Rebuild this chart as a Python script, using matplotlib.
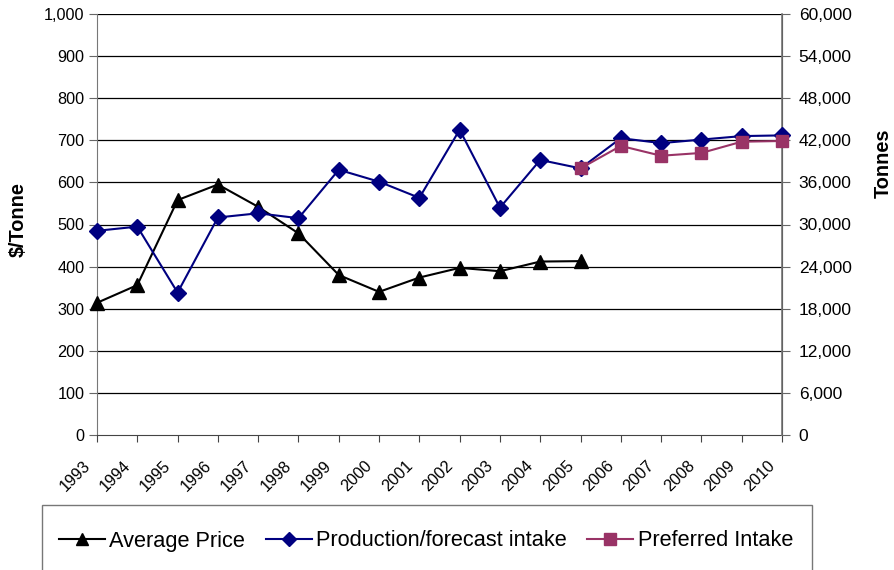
import matplotlib
matplotlib.use('Agg')
import matplotlib.pyplot as plt
from matplotlib.patches import Rectangle
from matplotlib.ticker import FuncFormatter

plt.rcParams['font.family'] = ['Liberation Sans', 'DejaVu Sans']

years = [str(y) for y in range(1993, 2011)]

# $/tonne, 1993-2005
avg_price = [314, 356, 558, 595, 542, 479, 380, 340, 374, 397, 389, 412, 413]

# tonnes, 1993-2010
production = [29100, 29700, 20300, 31000, 31600, 30900, 37800, 36100, 33800,
              43500, 32400, 39200, 38000, 42300, 41600, 42100, 42600, 42700]

# tonnes, 2005-2010
preferred = [38000, 41200, 39800, 40200, 41800, 41900]

x_all = list(range(len(years)))
x_price = x_all[:len(avg_price)]
x_pref = x_all[len(years) - len(preferred):]

fig = plt.figure(figsize=(8.95, 5.70), dpi=100)
ax = fig.add_axes([97 / 895, 1 - 435 / 570, 685 / 895, 421 / 570])
ax2 = ax.twinx()

# left axis: price
ax.set_xlim(0, len(years) - 1)
ax.set_ylim(0, 1000)
ax.set_yticks(range(0, 1001, 100))
ax.yaxis.set_major_formatter(FuncFormatter(lambda v, p: f'{int(v):,}'))
for v in range(100, 1001, 100):
    ax.axhline(v, color='black', lw=0.9, zorder=1)
ax.set_xticks(x_all)
ax.set_xticklabels([])
ax.tick_params(axis='x', length=5, width=0.8, color='#444444')
ax.tick_params(axis='y', length=6, width=0.8, pad=3, labelsize=11.7, color='#666666')

# year labels, slanted, sitting left of each tick
for i, yr in zip(x_all, years):
    ax.annotate(yr, xy=(i, 0), xycoords=('data', 'axes fraction'),
                xytext=(-22, -41), textcoords='offset pixels',
                rotation=45, rotation_mode='anchor', ha='center', va='center',
                fontsize=11.7, annotation_clip=False)

for s in ['top']:
    ax.spines[s].set_visible(False)
    ax2.spines[s].set_visible(False)
ax.spines['left'].set_color('#777777')
ax.spines['bottom'].set_color('#444444')
ax2.spines['right'].set_color('#777777')
ax2.spines['right'].set_linewidth(1.2)
ax2.spines['left'].set_visible(False)
ax2.spines['bottom'].set_visible(False)

l1, = ax.plot(x_price, avg_price, color='black', lw=1.5, marker='^', ms=10,
              label='Average Price', zorder=3, clip_on=False)

# right axis: tonnes
ax2.set_ylim(0, 60000)
ax2.set_yticks(range(0, 60001, 6000))
ax2.yaxis.set_major_formatter(FuncFormatter(lambda v, p: f'{int(v):,}'))
ax2.tick_params(axis='y', length=6, width=0.8, pad=6, labelsize=12.5, color='#666666')

l2, = ax2.plot(x_all, production, color='#000080', lw=1.5, marker='D', ms=8,
               label='Production/forecast intake', zorder=3, clip_on=False)
l3, = ax2.plot(x_pref, preferred, color='#993366', lw=1.5, marker='s', ms=9,
               label='Preferred Intake', zorder=4, clip_on=False)

# axis titles
fig.text(18 / 895, 1 - 220 / 570, '$/Tonne', rotation=90, ha='center', va='center',
         fontsize=14.3, fontweight='bold')
fig.text(883 / 895, 1 - 163 / 570, 'Tonnes', rotation=90, ha='center', va='center',
         fontsize=14.3, fontweight='bold')

# legend box below the plot
fig.patches.append(Rectangle((42 / 895, -0.05), 770 / 895, (570 - 505) / 570 + 0.05,
                             transform=fig.transFigure, facecolor='white',
                             edgecolor='#777777', lw=1.0, zorder=0))
fig.legend(handles=[l1, l2, l3], loc='center', bbox_to_anchor=(426 / 895, 1 - 541 / 570),
           ncol=3, frameon=False, fontsize=15.7, handlelength=2.1, handletextpad=0.2,
           columnspacing=0.95, markerscale=0.9)

fig.savefig('out.png', dpi=100)
